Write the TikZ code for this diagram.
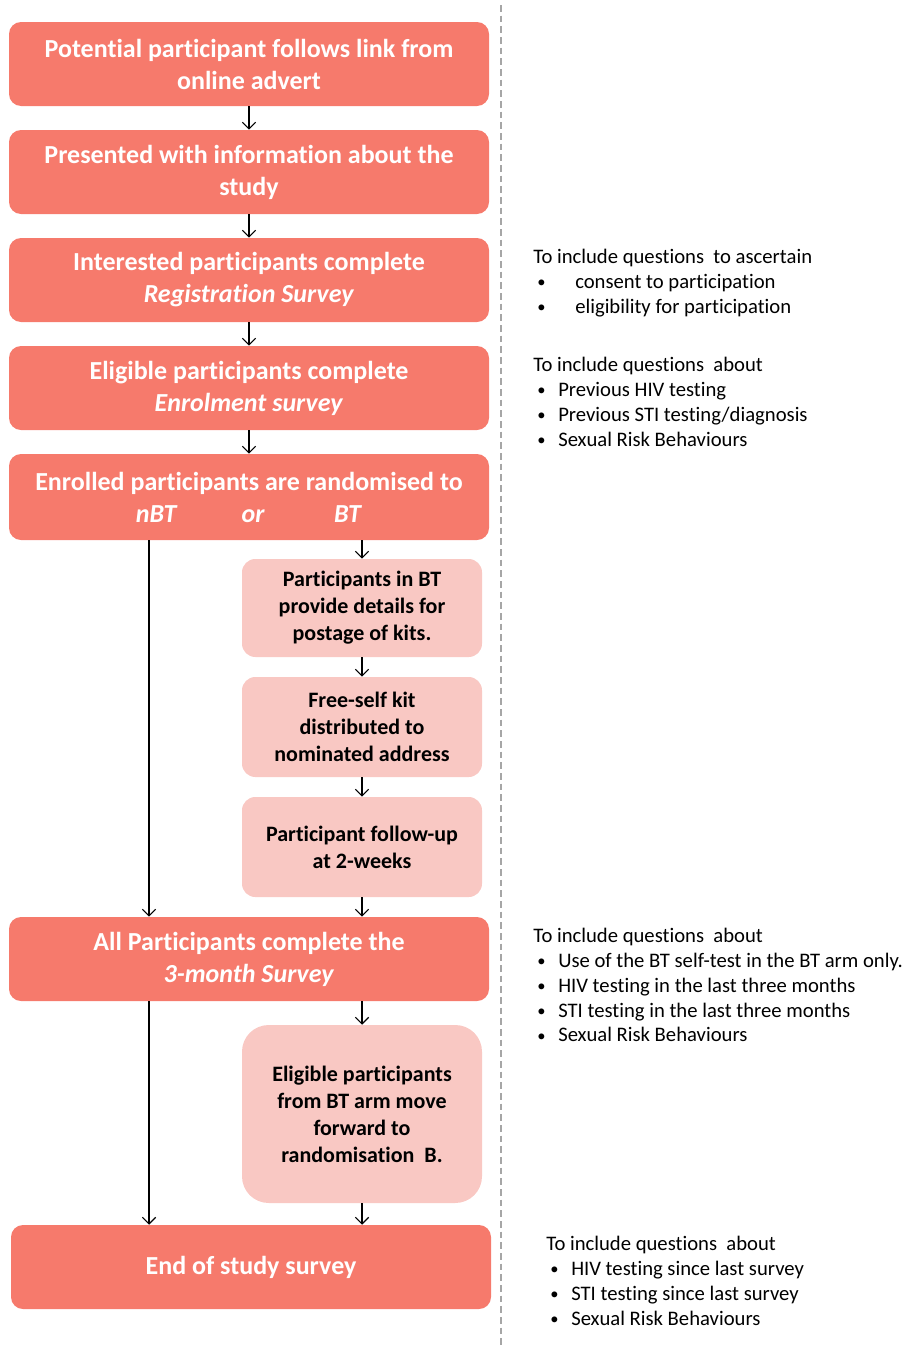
\documentclass[tikz,border=0pt]{standalone}
\usepackage{fontspec}
\setmainfont{Carlito}[Ligatures=NoCommon]
\usepackage{xcolor}
\usetikzlibrary{positioning, arrows.meta}

\definecolor{boxred}{RGB}{246,122,108}
\definecolor{boxpink}{RGB}{249,200,195}
\definecolor{divgray}{RGB}{166,166,166}

\tikzset{
    mainbox/.style={rectangle, rounded corners=9pt, fill=boxred, text=white, align=center,
        font=\bfseries\fontsize{19.5}{24}\selectfont, minimum width=360pt, minimum height=63pt, inner sep=0pt},
    subbox/.style={rectangle, rounded corners=10pt, fill=boxpink, text=black, align=center,
        font=\bfseries\fontsize{16.5}{20.25}\selectfont, minimum width=180pt, inner sep=0pt},
    flow/.style={-{Straight Barb[length=5pt, width=10pt]}, line width=0.9pt, black},
    note/.style={anchor=north west, align=left, inner sep=0pt,
        font=\fontsize{15.5}{18.6}\selectfont}
}
\newcommand{\itm}[1]{\hspace*{3pt}\makebox[#1][l]{\raisebox{0.5pt}{\scalebox{0.8}{\textbullet}}}}

\begin{document}
\begin{tikzpicture}[x=0.75pt, y=-0.75pt]
    \useasboundingbox (0,0) rectangle (907,1349);

    % divider between flow and notes
    \draw[divgray, line width=1.5pt, dash pattern=on 5pt off 3pt] (501,5) -- (501,1349);

    % main flow
    \node[mainbox] (advert) at (249,64) {Potential participant follows link from\\online advert};
    \node[mainbox] (info) at (249,172) {Presented with information about the\\study};
    \node[mainbox] (reg) at (249,280) {Interested participants complete\\\textit{Registration Survey}};
    \node[mainbox] (enrol) at (249,388) {Eligible participants complete\\\textit{Enrolment survey}};
    \node[mainbox, minimum height=64.5pt] (rand) at (249,497) {Enrolled participants are randomised to\\
        \textit{nBT}\hspace{48pt}\textit{or}\hspace{52pt}\textit{BT}};
    \node[mainbox] (all) at (249,959) {All Participants complete the\\\textit{3-month Survey}};
    \node[mainbox] (end) at (251,1267) {End of study survey};

    % BT arm
    \node[subbox, minimum height=73.5pt] (kits) at (362,608) {Participants in BT\\provide details for\\postage of kits.};
    \node[subbox, minimum height=75pt] (post) at (362,727) {Free-self kit\\distributed to\\nominated address};
    \node[subbox, minimum height=75pt] (follow) at (362,847) {Participant follow-up\\at 2-weeks};
    \node[subbox, rounded corners=20pt, minimum height=133.5pt] (move) at (362,1114) {Eligible participants\\from BT arm move\\forward to\\randomisation\ \ B.};

    \coordinate (nbt) at (149,0);

    % connectors
    \draw[flow] (advert) -- (info);
    \draw[flow] (info) -- (reg);
    \draw[flow] (reg) -- (enrol);
    \draw[flow] (enrol) -- (rand);
    \draw[flow] (rand.south -| kits) -- (kits);
    \draw[flow] (kits) -- (post);
    \draw[flow] (post) -- (follow);
    \draw[flow] (follow) -- (follow |- all.north);
    \draw[flow] (rand.south -| nbt) -- (all.north -| nbt);
    \draw[flow] (all.south -| move) -- (move);
    \draw[flow] (move) -- (move |- end.north);
    \draw[flow] (all.south -| nbt) -- (end.north -| nbt);

    % notes
    \node[note] (noteReg) at (533,249) {To include questions\ \ to ascertain\\
        \itm{28.5pt}consent to participation\\
        \itm{28.5pt}eligibility for participation};
    \node[note] (noteEnrol) at (533,357) {To include questions\ \ about\\
        \itm{15.75pt}Previous HIV testing\\
        \itm{15.75pt}Previous STI testing/diagnosis\\
        \itm{15.75pt}Sexual Risk Behaviours};
    \node[note] (noteAll) at (533,928) {To include questions\ \ about\\
        \itm{15.75pt}Use of the BT self-test in the BT arm only.\\
        \itm{15.75pt}HIV testing in the last three months\\
        \itm{15.75pt}STI testing in the last three months\\
        \itm{15.75pt}Sexual Risk Behaviours};
    \node[note] (noteEnd) at (546,1236) {To include questions\ \ about\\
        \itm{15.75pt}HIV testing since last survey\\
        \itm{15.75pt}STI testing since last survey\\
        \itm{15.75pt}Sexual Risk Behaviours};
\end{tikzpicture}
\end{document}
